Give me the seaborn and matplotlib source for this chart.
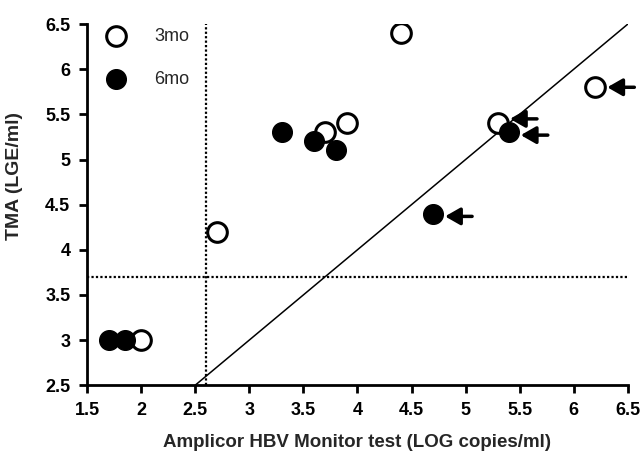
import matplotlib
matplotlib.use("Agg")
import matplotlib.pyplot as plt
import seaborn as sns
import pandas as pd

x3 = [4.4, 6.2, 5.3, 3.9, 3.7, 2.7, 2.0]
y3 = [6.4, 5.8, 5.4, 5.4, 5.3, 4.2, 3.0]
x6 = [3.3, 3.6, 3.8, 5.4, 4.7, 1.7, 1.85]
y6 = [5.3, 5.2, 5.1, 5.3, 4.4, 3.0, 3.0]
arrow_x = [6.2, 5.3, 5.4, 4.7]
arrow_y = [5.8, 5.45, 5.27, 4.37]
xticks = [1.5, 2, 2.5, 3, 3.5, 4, 4.5, 5, 5.5, 6, 6.5]
yticks = [2.5, 3, 3.5, 4, 4.5, 5, 5.5, 6, 6.5]
xcut = 2.6
ycut = 3.7

sns.set_style("white")
plt.rcParams['font.family'] = ['Liberation Sans', 'DejaVu Sans']
plt.rcParams['font.weight'] = 'bold'

fig = plt.figure(figsize=(6.4, 4.63), dpi=100)
ax = fig.add_axes([0.136, 0.168, 0.845, 0.78])

df3 = pd.DataFrame({"x": x3, "y": y3})
df6 = pd.DataFrame({"x": x6, "y": y6})

ax.plot([2.5, 6.5], [2.5, 6.5], color="black", lw=1.1, zorder=1)
ax.axvline(xcut, color="black", ls=(0, (1, 1)), lw=1.6, zorder=1)
ax.axhline(ycut, color="black", ls=(0, (1, 1)), lw=1.6, zorder=1)

sns.scatterplot(data=df3, x="x", y="y", ax=ax, s=200, facecolor="white",
                edgecolor="black", linewidth=2.2, label="3mo", zorder=3)
sns.scatterplot(data=df6, x="x", y="y", ax=ax, s=200, color="black",
                edgecolor="black", linewidth=1, label="6mo", zorder=4)

for ax_, ay_ in zip(arrow_x, arrow_y):
    ax.annotate("", xy=(ax_ + 0.11, ay_), xytext=(ax_ + 0.36, ay_),
                arrowprops=dict(arrowstyle="-|>,head_length=0.7,head_width=0.4",
                                color="black", lw=2.5, mutation_scale=13,
                                shrinkA=0, shrinkB=0),
                annotation_clip=False)

ax.set_xlim(1.5, 6.5)
ax.set_ylim(2.5, 6.5)
ax.set_xticks(xticks)
ax.set_yticks(yticks)
ax.set_xticklabels([f"{t:g}" for t in xticks], fontsize=13, fontweight="bold")
ax.set_yticklabels([f"{t:g}" for t in yticks], fontsize=13, fontweight="bold")
ax.set_xlabel("Amplicor HBV Monitor test (LOG copies/ml)", fontsize=13.5,
              fontweight="bold", labelpad=11)
ax.set_ylabel("TMA (LGE/ml)", fontsize=14, fontweight="bold")
ax.yaxis.set_label_coords(-0.118, 0.58)
for s in ["top", "right"]:
    ax.spines[s].set_visible(False)
for s in ["left", "bottom"]:
    ax.spines[s].set_linewidth(2)
    ax.spines[s].set_color("black")
ax.tick_params(direction="out", length=6, width=2, colors="black", bottom=True, left=True, pad=6)

leg = ax.legend(loc="upper left", frameon=False, fontsize=13, handletextpad=1.1,
                labelspacing=1.45, borderaxespad=0.2, bbox_to_anchor=(0.0, 1.02))
for t in leg.get_texts():
    t.set_fontweight("normal")
fig.savefig("out.png", dpi=100)
